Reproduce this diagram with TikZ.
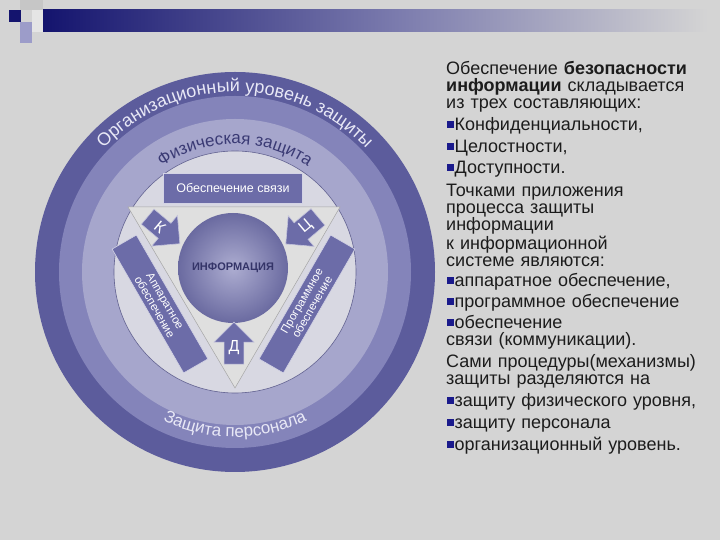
\documentclass[tikz,border=0pt]{standalone}
\usepackage{fontspec}
\setmainfont{Liberation Sans}
\usetikzlibrary{shapes.arrows,decorations.text}

\definecolor{bggray}{HTML}{D4D4D4}
\definecolor{barnavy}{HTML}{14146E}
\definecolor{barmid}{HTML}{7C7CAE}
\definecolor{bandouter}{HTML}{5C5C9C}
\definecolor{bandmid}{HTML}{8484BA}
\definecolor{bandlight}{HTML}{A6A6CC}
\definecolor{innerdisc}{HTML}{D8D8E2}
\definecolor{boxblue}{HTML}{6C6CA8}
\definecolor{infoblue}{HTML}{7676B2}
\definecolor{ringwhite}{HTML}{E8E8F6}
\definecolor{ringdark}{HTML}{3A3A74}
\definecolor{bulletblue}{HTML}{1A1A8C}
\definecolor{txtgray}{HTML}{1C1C1C}

\newcommand\sq{\textcolor{bulletblue}{\rule[2.5pt]{6.5pt}{7pt}}\hspace{1pt}}
\newcommand\orgfont{\fontsize{18}{18}\selectfont}
\newcommand\physfont{\fontsize{17}{17}\selectfont}
\newcommand\persfont{\fontsize{17}{17}\selectfont}

\tikzset{
  colline/.style={anchor=base west, align=left, text width=272pt, inner sep=0pt,
    text=txtgray, font=\fontsize{18}{17}\selectfont},
  slantbox/.style={fill=boxblue, draw=white!70!boxblue, line width=0.6pt,
    minimum width=143pt, minimum height=28pt, inner sep=0pt, align=center,
    text=white, font=\fontsize{11.5}{12}\selectfont},
  letterarrow/.style={single arrow, fill=boxblue, draw=white!60!boxblue,
    line width=0.6pt, minimum height=42pt, minimum width=40pt,
    single arrow head extend=8pt, inner sep=2pt, text=white,
    font=\fontsize{16}{16}\selectfont}
}

\begin{document}
\begin{tikzpicture}[x=1pt,y=1pt]
  \useasboundingbox (0,0) rectangle (720,540);
  \fill[bggray] (0,0) rectangle (720,540);

  % title bar and corner squares
  \shade[left color=barnavy, right color=barmid] (43,508) rectangle (400,530);
  \shade[left color=barmid, right color=bggray] (400,508) rectangle (708,530);
  \fill[gray!45] (20,530) rectangle (43,540);
  \fill[gray!20!white] (32,508) rectangle (43,530);
  \fill[gray!70!blue!60] (20,497) rectangle (32,518);
  \fill[barnavy] (9,518) rectangle (21,530);

  % rings
  \coordinate (ctr) at (235,268);
  \fill[bandouter] (ctr) circle (200);
  \fill[bandmid] (ctr) circle (176);
  \fill[bandlight] (ctr) circle (153);
  \fill[innerdisc] (ctr) circle (121);
  \draw[ringdark!80, line width=0.6pt] (ctr) circle (121);

  \path[decorate, decoration={text along path, text align=center,
      text color=ringwhite, text={|\orgfont|Организационный уровень защиты}}]
    (ctr) ++(142:180) arc[start angle=142, end angle=38, radius=180];
  \path[decorate, decoration={text along path, text align=center,
      text color=ringdark, text={|\physfont|Физическая защита}}]
    (ctr) ++(132:128) arc[start angle=132, end angle=48, radius=128];
  \path[decorate, decoration={text along path, text align=center,
      text color=ringwhite, text={|\persfont|Защита персонала}}]
    (ctr) ++(240:165) arc[start angle=240, end angle=300, radius=165];

  % triangle and blocks
  \fill[gray!25!white] (128,333) -- (340,333) -- (235,152) -- cycle;
  \draw[gray!70, line width=0.5pt] (128,333) -- (340,333) -- (235,152) -- cycle;

  \node[slantbox, minimum width=139pt, minimum height=30pt,
    font=\fontsize{12.5}{13}\selectfont] (svyaz) at (233,352) {Обеспечение связи};
  \node[slantbox, rotate=-60] (apparat) at (160,236) {Аппаратное\\обеспечение};
  \node[slantbox, rotate=60] (program) at (307,236) {Программное\\обеспечение};

  \shade[inner color=infoblue!60!white, outer color=infoblue!90!black]
    (233,272) circle (55);
  \node[text=ringdark!90!black, font=\bfseries\fontsize{11}{11}\selectfont] (info)
    at (233,272) {ИНФОРМАЦИЯ};

  \node[letterarrow, rotate=-40] (konf) at (160,313) {К};
  \node[letterarrow, shape border rotate=180, rotate=40] (cel) at (306,313) {Ц};
  \node[letterarrow, shape border rotate=90] (dost) at (234,192) {Д};

  % text column
  \node[colline] (p1) at (446,465) {Обеспечение \textbf{безопасности}\\
    \textbf{информации} складывается\\ из трех составляющих:};
  \node[colline] (b1) at (447,409) {\sq Конфиденциальности,};
  \node[colline] (b2) at (447,387) {\sq Целостности,};
  \node[colline] (b3) at (447,366) {\sq Доступности.};
  \node[colline] (p2) at (446,343) {Точками приложения\\ процесса защиты\\
    информации\\ к информационной\\ системе являются:};
  \node[colline] (b4) at (447,253) {\sq аппаратное обеспечение,};
  \node[colline] (b5) at (447,232) {\sq программное обеспечение};
  \node[colline] (b6) at (447,211) {\sq обеспечение\\\hspace*{-1pt}связи (коммуникации).};
  \node[colline] (p3) at (446,172) {Сами процедуры(механизмы)\\ защиты разделяются на};
  \node[colline] (b7) at (447,133) {\sq защиту физического уровня,};
  \node[colline] (b8) at (447,111) {\sq защиту персонала};
  \node[colline] (b9) at (447,89) {\sq организационный уровень.};
\end{tikzpicture}
\end{document}
